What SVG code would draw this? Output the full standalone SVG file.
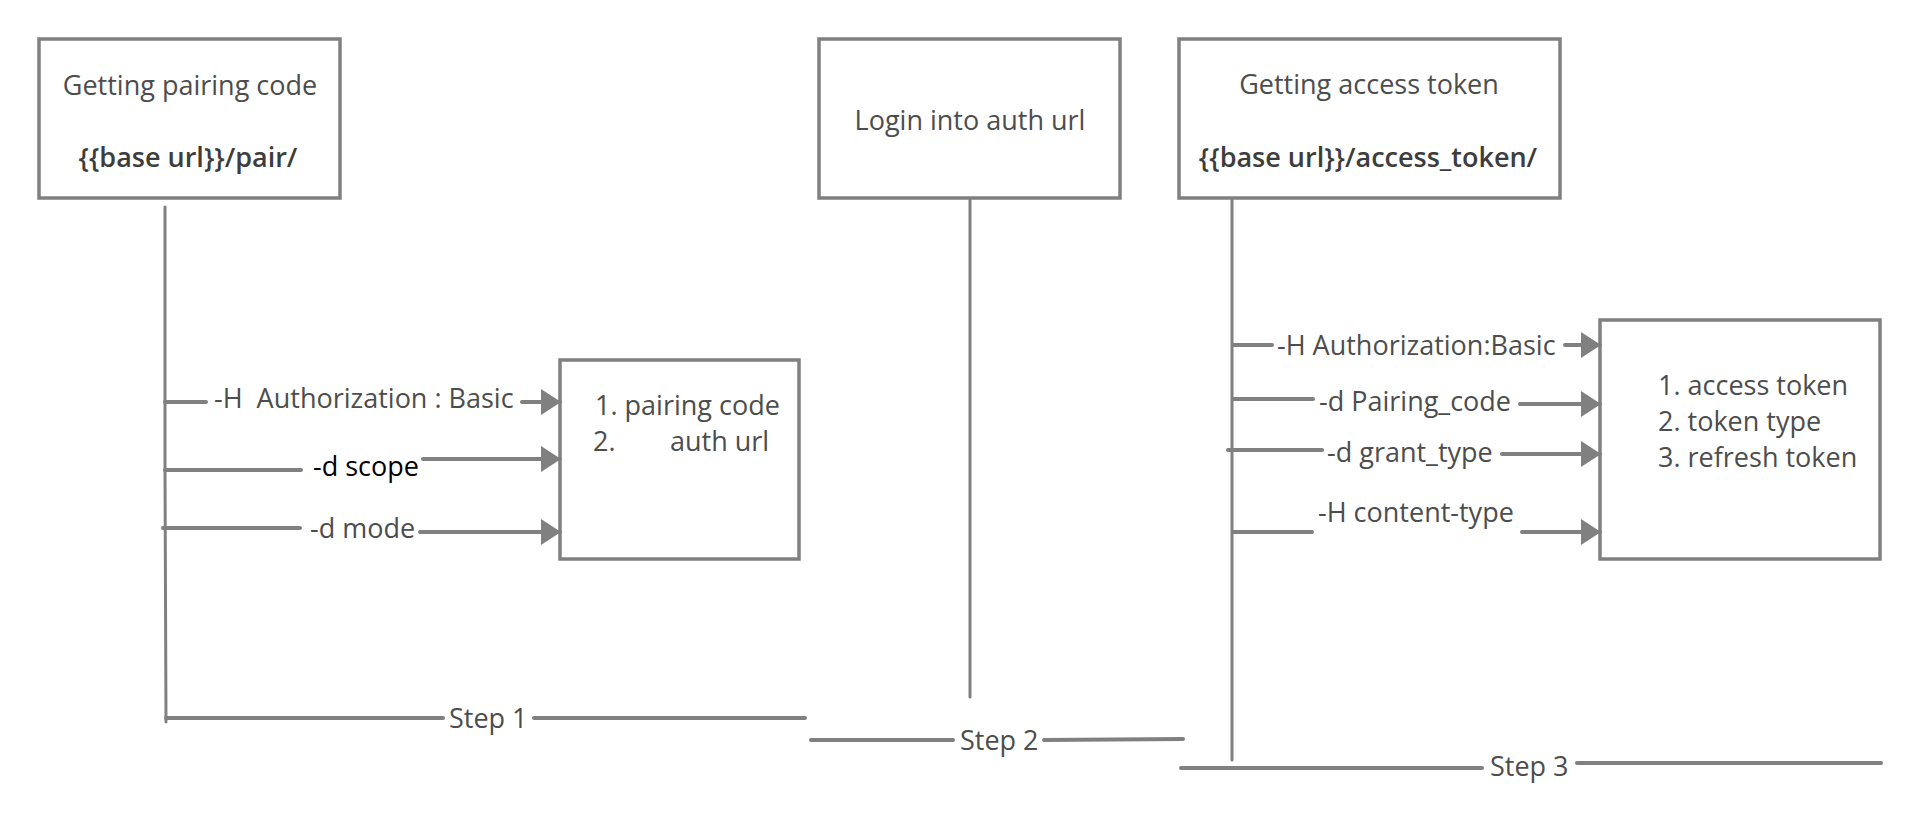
<svg xmlns="http://www.w3.org/2000/svg" width="1920" height="824" viewBox="0 0 1920 824">
<defs>
<style>
.box{fill:#fff;stroke:#808080;stroke-width:3.5}
.ln{fill:none;stroke:#808080;stroke-width:4;stroke-linecap:round}
.life{fill:none;stroke:#808080;stroke-width:3;stroke-linecap:round}
.t{font-family:"Open Sans","Noto Sans","Liberation Sans",sans-serif;font-size:27px;fill:#4d4d4d}
.b{font-weight:600;fill:#3d3d3d}
.c{text-anchor:middle}
</style>
<marker id="ah" viewBox="0 0 20 26" refX="19" refY="13" markerWidth="20" markerHeight="26" markerUnits="userSpaceOnUse" orient="auto">
<path d="M0,0 L20,13 L0,26 Z" fill="#808080"/>
</marker>
</defs>
<rect width="1920" height="824" fill="#fff"/>

<g id="node-pair">
<rect class="box" x="39" y="39" width="301" height="159"/>
<text class="t c" x="190" y="95">Getting pairing code</text>
<text class="t b c" x="188" y="167">{{base url}}/pair/</text>
</g>

<g id="node-login">
<rect class="box" x="819" y="39" width="301" height="159"/>
<text class="t c" x="970" y="130">Login into auth url</text>
</g>

<g id="node-access">
<rect class="box" x="1179" y="39" width="381" height="159"/>
<text class="t c" x="1369" y="94">Getting access token</text>
<text class="t b c" x="1368" y="167">{{base url}}/access_token/</text>
</g>

<g id="node-pair-result">
<rect class="box" x="560" y="360" width="239" height="199"/>
<text class="t" x="595" y="415">1. pairing code</text>
<text class="t" y="451"><tspan x="593">2.</tspan><tspan x="670">auth url</tspan></text>
</g>

<g id="node-token-result">
<rect class="box" x="1600" y="320" width="280" height="239"/>
<text class="t" x="1658" y="395">1. access token</text>
<text class="t" x="1658" y="431">2. token type</text>
<text class="t" x="1658" y="467">3. refresh token</text>
</g>

<g id="connectors">
<path class="life" d="M165,207 L165,470 L166,722"/>
<path class="life" d="M970,200 L970,697"/>
<path class="life" d="M1232,200 L1232,760"/>

<path class="ln" d="M165,402 L206,402"/>
<path class="ln" d="M522,402 L560,402" marker-end="url(#ah)"/>
<path class="ln" d="M165,470 L301,470"/>
<path class="ln" d="M423,459 L560,459" marker-end="url(#ah)"/>
<path class="ln" d="M163,528 L300,528"/>
<path class="ln" d="M420,532 L560,532" marker-end="url(#ah)"/>

<path class="ln" d="M1233,345 L1272,345"/>
<path class="ln" d="M1565,345 L1600,345" marker-end="url(#ah)"/>
<path class="ln" d="M1233,399 L1313,399"/>
<path class="ln" d="M1520,404 L1600,404" marker-end="url(#ah)"/>
<path class="ln" d="M1228,450 L1322,450"/>
<path class="ln" d="M1502,454 L1600,454" marker-end="url(#ah)"/>
<path class="ln" d="M1233,532 L1312,532"/>
<path class="ln" d="M1522,532 L1600,532" marker-end="url(#ah)"/>

<path class="ln" d="M166,718 L443,718"/>
<path class="ln" d="M534,718 L805,718"/>
<path class="ln" d="M811,740 L953,740"/>
<path class="ln" d="M1044,740 L1183,739"/>
<path class="ln" d="M1181,768 L1482,768"/>
<path class="ln" d="M1577,763 L1881,763"/>

<text class="t" x="214" y="408" xml:space="preserve">-H  Authorization : Basic</text>
<text class="t" x="313" y="476" style="fill:#000">-d scope</text>
<text class="t" x="310" y="538">-d mode</text>
<text class="t" x="1277" y="355">-H Authorization:Basic</text>
<text class="t" x="1319" y="411">-d Pairing_code</text>
<text class="t" x="1327" y="462">-d grant_type</text>
<text class="t" x="1318" y="522">-H content-type</text>
<text class="t" x="449" y="728">Step 1</text>
<text class="t" x="960" y="750">Step 2</text>
<text class="t" x="1490" y="776">Step 3</text>
</g>
</svg>
